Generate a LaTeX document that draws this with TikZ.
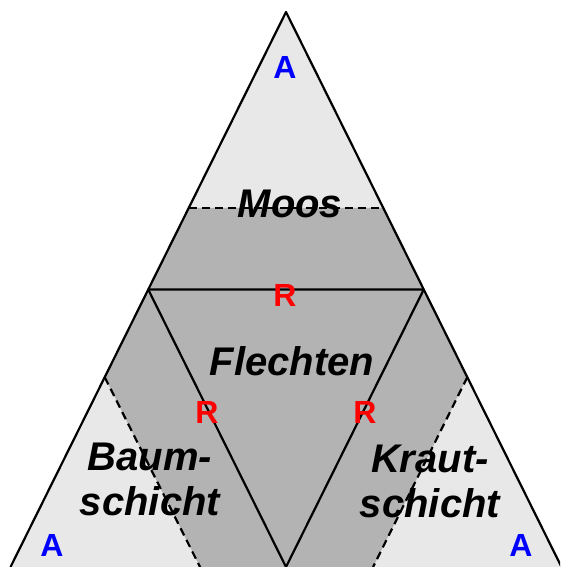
\documentclass[tikz,border=0pt]{standalone}
\usepackage{fontspec}
\setmainfont{Liberation Sans}
\usetikzlibrary{calc}
\definecolor{lightfill}{HTML}{E8E8E8}
\definecolor{darkfill}{HTML}{B3B3B3}
\definecolor{pblue}{HTML}{0000FF}
\definecolor{pred}{HTML}{FF0000}
\tikzset{
  edge/.style={line width=2.2pt, line join=round},
  dashline/.style={line width=2.2pt, dash pattern=on 8pt off 5pt},
  biglabel/.style={font=\fontsize{40}{45}\selectfont\bfseries\itshape, align=center, anchor=base, inner sep=0pt},
  letterA/.style={font=\fontsize{32}{34}\selectfont\bfseries, text=pblue, anchor=base, inner sep=0pt},
  letterR/.style={font=\fontsize{32}{34}\selectfont\bfseries, text=pred, anchor=base, inner sep=0pt}
}
\begin{document}
\begin{tikzpicture}[x=1pt,y=-1pt]
\useasboundingbox (0,0) rectangle (560,567);
\clip (0,0) rectangle (560,567);
% corners
\coordinate (A) at (286,12);
\coordinate (L) at (10.5,567);
\coordinate (Rr) at (561.5,567);
% cut points
\coordinate (tL) at ($(A)!0.353!(L)$);
\coordinate (tR) at ($(A)!0.353!(Rr)$);
\coordinate (lA) at ($(L)!0.342!(A)$);
\coordinate (lB) at ($(L)!0.344!(Rr)$);
\coordinate (rA) at ($(Rr)!0.342!(A)$);
\coordinate (rB) at ($(Rr)!0.342!(L)$);
% midpoints
\coordinate (mL) at ($(A)!0.5!(L)$);
\coordinate (mR) at ($(A)!0.5!(Rr)$);
\coordinate (mB) at ($(L)!0.5!(Rr)$);
% fills
\fill[lightfill] (A) -- (L) -- (Rr) -- cycle;
\fill[darkfill] (tL) -- (tR) -- (rA) -- (rB) -- (lB) -- (lA) -- cycle;
% dashed boundaries
\draw[dashline] (tL) -- (tR);
\draw[dashline] (lA) -- (lB);
\draw[dashline] (rA) -- (rB);
% inner triangle
\draw[edge] (mL) -- (mR) -- (mB) -- cycle;
% outer sides
\draw[edge] (L) -- (A) -- (Rr);
% labels
\node[biglabel] (moos) at (290,217) {Moos};
\node[biglabel] (flechten) at (292,375) {Flechten};
\node[biglabel] (baum) at (150,515) {Baum-\\schicht};
\node[biglabel] (kraut) at (430,517) {Kraut-\\schicht};
\node[letterA] (aTop) at (285,79) {A};
\node[letterA] (aLeft) at (52,556) {A};
\node[letterA] (aRight) at (521,556) {A};
\node[letterR] (rTop) at (285,306) {R};
\node[letterR] (rLeft) at (207,423) {R};
\node[letterR] (rRight) at (365,423) {R};
\end{tikzpicture}
\end{document}
